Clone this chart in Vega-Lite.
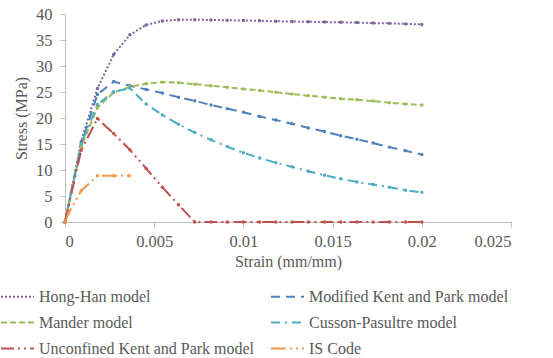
{
  "$schema": "https://vega.github.io/schema/vega-lite/v6.json",
  "width": 446,
  "height": 208,
  "autosize": {"type": "none"},
  "padding": {"left": 65, "top": 14, "right": 42, "bottom": 136},
  "config": {
    "view": {"stroke": null},
    "font": "Liberation Serif, serif",
    "axis": {
      "grid": false,
      "domainColor": "#BFBFBF",
      "tickColor": "#BFBFBF",
      "tickSize": 5,
      "labelColor": "#595959",
      "titleColor": "#595959",
      "labelFont": "Liberation Serif, serif",
      "titleFont": "Liberation Serif, serif",
      "labelFontSize": 16.5,
      "titleFontSize": 16,
      "titleFontWeight": "normal"
    },
    "legend": {
      "labelFont": "Liberation Serif, serif",
      "labelFontSize": 16,
      "labelColor": "#595959",
      "labelLimit": 400
    }
  },
  "data": {
    "values": [
      {"model": "Hong-Han model", "strain": 0, "stress": 0},
      {"model": "Hong-Han model", "strain": 0.000909, "stress": 15.5},
      {"model": "Hong-Han model", "strain": 0.001818, "stress": 25.7},
      {"model": "Hong-Han model", "strain": 0.002727, "stress": 32.2},
      {"model": "Hong-Han model", "strain": 0.003636, "stress": 36.0},
      {"model": "Hong-Han model", "strain": 0.004545, "stress": 37.9},
      {"model": "Hong-Han model", "strain": 0.005455, "stress": 38.65},
      {"model": "Hong-Han model", "strain": 0.006364, "stress": 38.9},
      {"model": "Hong-Han model", "strain": 0.007273, "stress": 38.9},
      {"model": "Hong-Han model", "strain": 0.008182, "stress": 38.85},
      {"model": "Hong-Han model", "strain": 0.009091, "stress": 38.8},
      {"model": "Hong-Han model", "strain": 0.01, "stress": 38.75},
      {"model": "Hong-Han model", "strain": 0.010909, "stress": 38.7},
      {"model": "Hong-Han model", "strain": 0.011818, "stress": 38.6},
      {"model": "Hong-Han model", "strain": 0.012727, "stress": 38.55},
      {"model": "Hong-Han model", "strain": 0.013636, "stress": 38.5},
      {"model": "Hong-Han model", "strain": 0.014545, "stress": 38.45},
      {"model": "Hong-Han model", "strain": 0.015455, "stress": 38.4},
      {"model": "Hong-Han model", "strain": 0.016364, "stress": 38.35},
      {"model": "Hong-Han model", "strain": 0.017273, "stress": 38.25},
      {"model": "Hong-Han model", "strain": 0.018182, "stress": 38.2},
      {"model": "Hong-Han model", "strain": 0.019091, "stress": 38.1},
      {"model": "Hong-Han model", "strain": 0.02, "stress": 38.0},

      {"model": "Modified Kent and Park model", "strain": 0, "stress": 0},
      {"model": "Modified Kent and Park model", "strain": 0.000909, "stress": 15.0},
      {"model": "Modified Kent and Park model", "strain": 0.001818, "stress": 24.5},
      {"model": "Modified Kent and Park model", "strain": 0.002727, "stress": 27.0},
      {"model": "Modified Kent and Park model", "strain": 0.003636, "stress": 26.2},
      {"model": "Modified Kent and Park model", "strain": 0.004545, "stress": 25.5},
      {"model": "Modified Kent and Park model", "strain": 0.005455, "stress": 24.8},
      {"model": "Modified Kent and Park model", "strain": 0.006364, "stress": 24.0},
      {"model": "Modified Kent and Park model", "strain": 0.007273, "stress": 23.3},
      {"model": "Modified Kent and Park model", "strain": 0.008182, "stress": 22.5},
      {"model": "Modified Kent and Park model", "strain": 0.009091, "stress": 21.8},
      {"model": "Modified Kent and Park model", "strain": 0.01, "stress": 21.1},
      {"model": "Modified Kent and Park model", "strain": 0.010909, "stress": 20.3},
      {"model": "Modified Kent and Park model", "strain": 0.011818, "stress": 19.6},
      {"model": "Modified Kent and Park model", "strain": 0.012727, "stress": 18.9},
      {"model": "Modified Kent and Park model", "strain": 0.013636, "stress": 18.1},
      {"model": "Modified Kent and Park model", "strain": 0.014545, "stress": 17.4},
      {"model": "Modified Kent and Park model", "strain": 0.015455, "stress": 16.6},
      {"model": "Modified Kent and Park model", "strain": 0.016364, "stress": 15.9},
      {"model": "Modified Kent and Park model", "strain": 0.017273, "stress": 15.2},
      {"model": "Modified Kent and Park model", "strain": 0.018182, "stress": 14.4},
      {"model": "Modified Kent and Park model", "strain": 0.019091, "stress": 13.7},
      {"model": "Modified Kent and Park model", "strain": 0.02, "stress": 13.0},

      {"model": "Mander model", "strain": 0, "stress": 0},
      {"model": "Mander model", "strain": 0.000909, "stress": 14.5},
      {"model": "Mander model", "strain": 0.001818, "stress": 22.0},
      {"model": "Mander model", "strain": 0.002727, "stress": 24.9},
      {"model": "Mander model", "strain": 0.003636, "stress": 26.0},
      {"model": "Mander model", "strain": 0.004545, "stress": 26.6},
      {"model": "Mander model", "strain": 0.005455, "stress": 26.9},
      {"model": "Mander model", "strain": 0.006364, "stress": 26.8},
      {"model": "Mander model", "strain": 0.007273, "stress": 26.5},
      {"model": "Mander model", "strain": 0.008182, "stress": 26.2},
      {"model": "Mander model", "strain": 0.009091, "stress": 25.9},
      {"model": "Mander model", "strain": 0.01, "stress": 25.6},
      {"model": "Mander model", "strain": 0.010909, "stress": 25.3},
      {"model": "Mander model", "strain": 0.011818, "stress": 24.95},
      {"model": "Mander model", "strain": 0.012727, "stress": 24.6},
      {"model": "Mander model", "strain": 0.013636, "stress": 24.3},
      {"model": "Mander model", "strain": 0.014545, "stress": 24.0},
      {"model": "Mander model", "strain": 0.015455, "stress": 23.7},
      {"model": "Mander model", "strain": 0.016364, "stress": 23.5},
      {"model": "Mander model", "strain": 0.017273, "stress": 23.25},
      {"model": "Mander model", "strain": 0.018182, "stress": 22.95},
      {"model": "Mander model", "strain": 0.019091, "stress": 22.7},
      {"model": "Mander model", "strain": 0.02, "stress": 22.5},

      {"model": "Cusson-Pasultre model", "strain": 0, "stress": 0},
      {"model": "Cusson-Pasultre model", "strain": 0.000909, "stress": 15.0},
      {"model": "Cusson-Pasultre model", "strain": 0.001818, "stress": 22.6},
      {"model": "Cusson-Pasultre model", "strain": 0.002727, "stress": 25.06},
      {"model": "Cusson-Pasultre model", "strain": 0.003636, "stress": 25.7},
      {"model": "Cusson-Pasultre model", "strain": 0.004545, "stress": 22.7},
      {"model": "Cusson-Pasultre model", "strain": 0.005455, "stress": 20.6},
      {"model": "Cusson-Pasultre model", "strain": 0.006364, "stress": 18.8},
      {"model": "Cusson-Pasultre model", "strain": 0.007273, "stress": 17.2},
      {"model": "Cusson-Pasultre model", "strain": 0.008182, "stress": 15.8},
      {"model": "Cusson-Pasultre model", "strain": 0.009091, "stress": 14.5},
      {"model": "Cusson-Pasultre model", "strain": 0.01, "stress": 13.3},
      {"model": "Cusson-Pasultre model", "strain": 0.010909, "stress": 12.3},
      {"model": "Cusson-Pasultre model", "strain": 0.011818, "stress": 11.4},
      {"model": "Cusson-Pasultre model", "strain": 0.012727, "stress": 10.6},
      {"model": "Cusson-Pasultre model", "strain": 0.013636, "stress": 9.75},
      {"model": "Cusson-Pasultre model", "strain": 0.014545, "stress": 9.0},
      {"model": "Cusson-Pasultre model", "strain": 0.015455, "stress": 8.3},
      {"model": "Cusson-Pasultre model", "strain": 0.016364, "stress": 7.7},
      {"model": "Cusson-Pasultre model", "strain": 0.017273, "stress": 7.2},
      {"model": "Cusson-Pasultre model", "strain": 0.018182, "stress": 6.7},
      {"model": "Cusson-Pasultre model", "strain": 0.019091, "stress": 6.1},
      {"model": "Cusson-Pasultre model", "strain": 0.02, "stress": 5.7},

      {"model": "Unconfined Kent and Park model", "strain": 0, "stress": 0},
      {"model": "Unconfined Kent and Park model", "strain": 0.000909, "stress": 13.8},
      {"model": "Unconfined Kent and Park model", "strain": 0.001818, "stress": 19.9},
      {"model": "Unconfined Kent and Park model", "strain": 0.002727, "stress": 17.0},
      {"model": "Unconfined Kent and Park model", "strain": 0.003636, "stress": 13.9},
      {"model": "Unconfined Kent and Park model", "strain": 0.004545, "stress": 10.3},
      {"model": "Unconfined Kent and Park model", "strain": 0.005455, "stress": 6.7},
      {"model": "Unconfined Kent and Park model", "strain": 0.006364, "stress": 3.3},
      {"model": "Unconfined Kent and Park model", "strain": 0.007273, "stress": 0},
      {"model": "Unconfined Kent and Park model", "strain": 0.008182, "stress": 0},
      {"model": "Unconfined Kent and Park model", "strain": 0.009091, "stress": 0},
      {"model": "Unconfined Kent and Park model", "strain": 0.01, "stress": 0},
      {"model": "Unconfined Kent and Park model", "strain": 0.010909, "stress": 0},
      {"model": "Unconfined Kent and Park model", "strain": 0.011818, "stress": 0},
      {"model": "Unconfined Kent and Park model", "strain": 0.012727, "stress": 0},
      {"model": "Unconfined Kent and Park model", "strain": 0.013636, "stress": 0},
      {"model": "Unconfined Kent and Park model", "strain": 0.014545, "stress": 0},
      {"model": "Unconfined Kent and Park model", "strain": 0.015455, "stress": 0},
      {"model": "Unconfined Kent and Park model", "strain": 0.016364, "stress": 0},
      {"model": "Unconfined Kent and Park model", "strain": 0.017273, "stress": 0},
      {"model": "Unconfined Kent and Park model", "strain": 0.018182, "stress": 0},
      {"model": "Unconfined Kent and Park model", "strain": 0.019091, "stress": 0},
      {"model": "Unconfined Kent and Park model", "strain": 0.02, "stress": 0},

      {"model": "IS Code", "strain": 0, "stress": 0},
      {"model": "IS Code", "strain": 0.0002, "stress": 1.7},
      {"model": "IS Code", "strain": 0.000909, "stress": 6.0},
      {"model": "IS Code", "strain": 0.001818, "stress": 8.9},
      {"model": "IS Code", "strain": 0.002727, "stress": 8.9},
      {"model": "IS Code", "strain": 0.0036, "stress": 8.9}
    ]
  },
  "encoding": {
    "x": {
      "field": "strain",
      "type": "quantitative",
      "scale": {"domain": [0, 0.025], "nice": false},
      "axis": {
        "values": [0, 0.005, 0.01, 0.015, 0.02, 0.025],
        "format": "~g",
        "title": "Strain (mm/mm)",
        "labelPadding": 6,
        "titlePadding": 4
      }
    },
    "y": {
      "field": "stress",
      "type": "quantitative",
      "scale": {"domain": [0, 40], "nice": false},
      "axis": {
        "values": [0, 5, 10, 15, 20, 25, 30, 35, 40],
        "title": "Stress (MPa)",
        "labelPadding": 8,
        "titlePadding": 6
      }
    },
    "color": {
      "field": "model",
      "type": "nominal",
      "scale": {
        "domain": ["Hong-Han model", "Mander model", "Unconfined Kent and Park model", "Modified Kent and Park model", "Cusson-Pasultre model", "IS Code"],
        "range": ["#8064A2", "#9BBB59", "#C0504D", "#4F81BD", "#4BACC6", "#F79646"]
      }
    }
  },
  "layer": [
    {
      "mark": {"type": "line", "strokeWidth": 2},
      "encoding": {
        "color": {
          "field": "model",
          "type": "nominal",
          "legend": {
            "title": null,
            "orient": "none",
            "legendX": -65,
            "legendY": 265,
            "columns": 2,
            "columnPadding": 12,
            "rowPadding": -7,
            "symbolType": "stroke",
            "symbolSize": 1089,
            "symbolStrokeWidth": 2,
            "labelOffset": 4
          }
        },
        "strokeDash": {
          "field": "model",
          "type": "nominal",
          "scale": {
            "domain": ["Hong-Han model", "Mander model", "Unconfined Kent and Park model", "Modified Kent and Park model", "Cusson-Pasultre model", "IS Code"],
            "range": [[2, 2], [6, 3], [13, 4, 2, 4, 2, 4], [9, 6], [9, 5, 2, 5], [15, 4, 2, 4, 2, 4]]
          }
        }
      }
    },
    {
      "mark": {"type": "point", "filled": true, "size": 12, "opacity": 1},
      "encoding": {
        "color": {"field": "model", "type": "nominal", "legend": null}
      }
    }
  ]
}
